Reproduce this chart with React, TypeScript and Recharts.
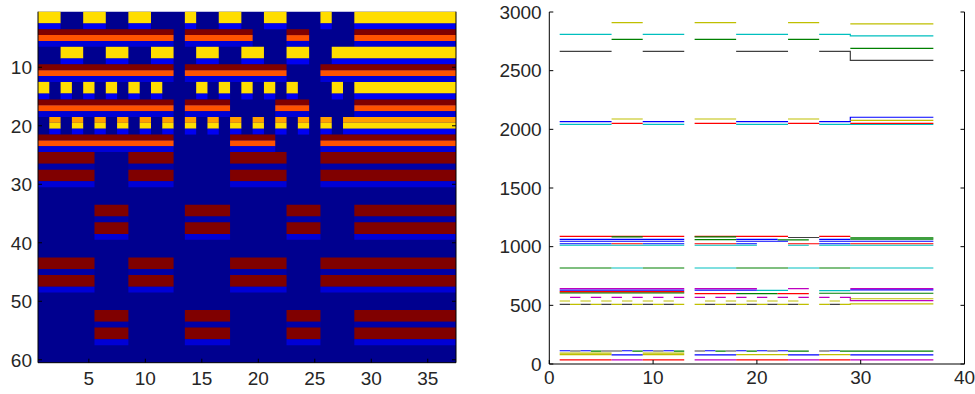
import React from 'react';
import { ComposedChart, LineChart, Line, XAxis, YAxis, ReferenceArea, Scatter } from 'recharts';

// ---------- Left panel: image (60 rows x 37 columns) ----------
const HEAT_COLS = 37;
const HEAT_ROWS_N = 60;
const HEAT_X_TICKS = [5, 10, 15, 20, 25, 30, 35];
const HEAT_Y_TICKS = [10, 20, 30, 40, 50, 60];

const HEAT_COLORS: Record<string, string> = {
  bg: '#00008F',
  lb: '#0000F2',
  mb: '#0000D6',
  db: '#0000A6',
  dr: '#800000',
  or: '#FF5200',
  ye: '#FFDD00',
  og: '#FFA000',
};

// column runs [firstCol, lastCol]
const P1 = [[1, 2], [5, 6], [9, 10], [14, 14], [17, 18], [21, 22], [26, 26], [29, 37]];
const P2 = [[1, 12], [14, 19], [23, 24], [29, 37]];
const P3 = [[3, 4], [7, 8], [11, 12], [15, 16], [19, 20], [23, 24], [27, 37]];
const P4 = [[1, 12], [14, 22], [26, 37]];
const P5 = [[1, 1], [3, 3], [5, 5], [7, 7], [9, 9], [11, 11], [15, 15], [17, 17], [19, 19], [21, 21], [23, 23], [27, 27], [29, 37]];
const P6 = [[1, 12], [14, 17], [22, 24], [29, 37]];
const P7 = [[2, 2], [4, 4], [6, 6], [8, 8], [10, 10], [12, 12], [14, 14], [16, 16], [18, 18], [20, 20], [22, 22], [24, 24], [26, 26], [28, 37]];
const P8 = [[1, 12], [18, 21], [26, 37]];
const PA = [[1, 5], [9, 12], [18, 22], [26, 37]];
const PB = [[6, 8], [14, 17], [23, 25], [29, 37]];

// [firstRow, lastRow, colour, column runs]
const HEAT_ROWS: [number, number, string, number[][]][] = [
  [1, 2, 'ye', P1], [3, 3, 'lb', P1],
  [4, 4, 'dr', P2], [5, 5, 'or', P2], [6, 6, 'mb', P2],
  [7, 8, 'ye', P3], [9, 9, 'lb', P3],
  [10, 10, 'dr', P4], [11, 11, 'or', P4], [12, 12, 'mb', P4],
  [13, 14, 'ye', P5], [15, 15, 'lb', P5],
  [16, 16, 'dr', P6], [17, 17, 'or', P6], [18, 18, 'mb', P6],
  [19, 19, 'og', P7], [20, 20, 'ye', P7], [21, 21, 'lb', P7],
  [22, 22, 'dr', P8], [23, 23, 'or', P8], [24, 24, 'mb', P8],
  [25, 26, 'dr', PA], [27, 27, 'db', PA], [28, 29, 'dr', PA], [30, 30, 'mb', PA],
  [34, 35, 'dr', PB], [36, 36, 'db', PB], [37, 38, 'dr', PB], [39, 39, 'mb', PB],
  [43, 44, 'dr', PA], [45, 45, 'db', PA], [46, 47, 'dr', PA], [48, 48, 'mb', PA],
  [52, 53, 'dr', PB], [54, 54, 'db', PB], [55, 56, 'dr', PB], [57, 57, 'mb', PB],
];

// ---------- Right panel: stair lines ----------
const LINE_X_TICKS = [0, 10, 20, 30, 40];
const LINE_Y_TICKS = [0, 500, 1000, 1500, 2000, 2500, 3000];

const B = '#0000FF';
const G = '#008000';
const R = '#FF0000';
const C = '#00BFBF';
const M = '#BF00BF';
const Y = '#BFBF00';
const K = '#404040';

// runs: [firstCol, lastCol, value]
const TOP_SERIES = [
  { color: Y, runs: [[6, 8, 2910], [14, 17, 2910], [23, 25, 2910], [29, 36, 2898]] },
  { color: C, runs: [[1, 5, 2810], [9, 12, 2810], [18, 22, 2810], [26, 28, 2810], [29, 36, 2796]] },
  { color: G, runs: [[6, 8, 2767], [14, 17, 2767], [23, 25, 2767], [29, 36, 2690]] },
  { color: K, runs: [[1, 5, 2665], [9, 12, 2665], [18, 22, 2665], [26, 28, 2665], [29, 36, 2588]] },
];
const BAND2000_SERIES = [
  { color: B, runs: [[1, 5, 2065], [9, 12, 2065], [18, 22, 2065], [26, 28, 2065], [29, 36, 2103]] },
  { color: C, runs: [[1, 5, 2043], [9, 12, 2043], [18, 22, 2043], [26, 28, 2043], [29, 36, 2043]] },
  { color: Y, runs: [[6, 8, 2088], [14, 17, 2088], [23, 25, 2088], [29, 36, 2077]] },
  { color: R, runs: [[6, 8, 2051], [14, 17, 2051], [23, 25, 2051], [29, 36, 2051]] },
];
const BAND1000_SERIES = [
  { color: B, runs: [[1, 12, 1063], [18, 21, 1063], [26, 28, 1063]] },
  { color: G, runs: [[14, 17, 1060], [22, 24, 1058]] },
  { color: B, runs: [[1, 12, 1046], [18, 22, 1046], [26, 36, 1046]] },
  { color: B, runs: [[1, 5, 1025], [9, 12, 1025], [18, 19, 1025], [26, 28, 1025]] },
  { color: R, runs: [[6, 8, 1025], [14, 17, 1025], [23, 25, 1025], [29, 36, 1025]] },
  { color: C, runs: [[1, 12, 1012], [14, 19, 1012], [23, 24, 1012], [26, 36, 1012]] },
  { color: R, runs: [[1, 12, 1088], [14, 22, 1088], [26, 28, 1088]] },
  { color: G, runs: [[6, 8, 1084], [14, 17, 1084], [29, 36, 1075]] },
  { color: G, runs: [[29, 36, 1064]] },
  { color: K, runs: [[23, 25, 1078]] },
];
const BAND800_SERIES = [
  { color: G, runs: [[1, 5, 818], [9, 12, 818], [18, 22, 818], [26, 28, 818]] },
  { color: C, runs: [[6, 8, 818], [14, 17, 818], [23, 25, 818], [29, 36, 818]] },
];
const BAND600_SERIES = [
  { color: G, runs: [[1, 12, 607], [18, 21, 600], [26, 36, 603]] },
  { color: R, runs: [[1, 12, 617], [14, 17, 600], [22, 24, 600]] },
  { color: C, runs: [[20, 22, 628], [26, 28, 626]] },
  { color: B, runs: [[1, 12, 630], [14, 19, 630], [29, 36, 632]] },
  { color: M, runs: [[1, 12, 642], [14, 19, 642], [23, 24, 642], [29, 36, 642]] },
];
const BAND500_SERIES = [
  { color: M, runs: [[2, 2, 568], [4, 4, 568], [6, 6, 568], [8, 8, 568], [10, 10, 568], [12, 12, 568], [14, 14, 568], [16, 16, 568], [18, 18, 568], [20, 20, 568], [22, 22, 568], [24, 24, 568], [26, 26, 568], [28, 28, 568], [29, 36, 540]] },
  { color: Y, runs: [[1, 1, 537], [3, 3, 537], [5, 5, 537], [7, 7, 537], [9, 9, 537], [11, 11, 537], [15, 15, 537], [17, 17, 537], [19, 19, 537], [21, 21, 537], [23, 23, 537], [27, 27, 537], [29, 36, 556]] },
  { color: K, runs: [[1, 1, 509], [3, 3, 509], [5, 5, 509], [7, 7, 509], [9, 9, 509], [11, 11, 509], [15, 15, 509], [17, 17, 509], [19, 19, 509], [21, 21, 509], [23, 23, 509], [27, 27, 509]] },
  { color: Y, runs: [[2, 2, 509], [4, 4, 509], [6, 6, 509], [8, 8, 509], [10, 10, 509], [12, 12, 509], [14, 14, 509], [16, 16, 509], [18, 18, 509], [20, 20, 509], [22, 22, 509], [24, 24, 509], [26, 26, 509], [28, 28, 509], [29, 36, 512]] },
];
const BAND0_SERIES = [
  { color: B, runs: [[1, 1, 113], [3, 3, 113], [7, 7, 113], [9, 9, 113], [11, 11, 113], [15, 15, 113], [18, 18, 113], [20, 20, 113], [22, 22, 113], [27, 27, 113]] },
  { color: K, runs: [[2, 2, 111], [5, 5, 111], [6, 6, 111], [10, 10, 111], [14, 14, 111], [17, 17, 111], [21, 21, 111], [26, 26, 111]] },
  { color: G, runs: [[4, 4, 109], [8, 8, 109], [12, 12, 109], [16, 16, 109], [19, 19, 109], [23, 23, 109], [24, 24, 109], [28, 28, 109], [29, 36, 109]] },
  { color: Y, runs: [[1, 5, 93], [9, 12, 93]] },
  { color: Y, runs: [[1, 5, 80], [9, 12, 80], [18, 22, 80], [26, 28, 80]] },
  { color: B, runs: [[6, 8, 77], [14, 17, 77], [23, 25, 77], [29, 36, 77]] },
  { color: R, runs: [[1, 5, 36], [9, 12, 36], [18, 22, 36], [26, 28, 36]] },
  { color: M, runs: [[6, 8, 36], [14, 17, 36], [23, 25, 36], [29, 36, 36]] },
];

const ALL_SERIES = [
  ...TOP_SERIES,
  ...BAND2000_SERIES,
  ...BAND1000_SERIES,
  ...BAND800_SERIES,
  ...BAND600_SERIES,
  ...BAND500_SERIES,
  ...BAND0_SERIES,
];

// stairs: each column value spans [col, col+1)
function stairPoints(runs: number[][]) {
  const pts: { x: number; y: number | null }[] = [];
  runs.forEach(([a, b, v], i) => {
    if (i > 0) {
      const prevEnd = runs[i - 1][1] + 1;
      if (a !== prevEnd) pts.push({ x: (prevEnd + a) / 2, y: null });
    }
    pts.push({ x: a, y: v });
    pts.push({ x: b + 1, y: v });
  });
  return pts;
}

const FONT = "'Liberation Sans', Arial, Helvetica, sans-serif";
const TICK_STYLE = { fontSize: 19, fill: '#262626', fontFamily: FONT };
const AXIS_COLOR = '#000000';

function HeatPanel() {
  const areas: React.ReactNode[] = [];
  HEAT_ROWS.forEach(([r1, r2, key, runs], i) => {
    runs.forEach(([c1, c2], j) => {
      areas.push(
        <ReferenceArea
          key={`h${i}-${j}`}
          x1={c1 - 0.5}
          x2={c2 + 0.5}
          y1={r1 - 0.5}
          y2={r2 + 0.5}
          fill={HEAT_COLORS[key]}
          fillOpacity={1}
          stroke="none"
          ifOverflow="visible"
        />
      );
    });
  });
  const centers = [{ x: (1 + HEAT_COLS) / 2, y: (1 + HEAT_ROWS_N) / 2 }];
  return (
    <ComposedChart
      width={470}
      height={394}
      margin={{ top: 11.7, right: 13, bottom: 0, left: 0 }}
    >
      <XAxis
        xAxisId={0}
        type="number"
        dataKey="x"
        domain={[0.5, HEAT_COLS + 0.5]}
        ticks={HEAT_X_TICKS}
        allowDataOverflow
        height={31.3}
        tickSize={-4}
        tickMargin={13}
        tick={TICK_STYLE}
        stroke={AXIS_COLOR}
      />
      <XAxis
        xAxisId="top"
        orientation="top"
        type="number"
        domain={[0.5, HEAT_COLS + 0.5]}
        ticks={HEAT_X_TICKS}
        allowDataOverflow
        height={0}
        tickSize={-4}
        tickFormatter={() => ''}
        stroke={AXIS_COLOR}
      />
      <YAxis
        yAxisId={0}
        type="number"
        dataKey="y"
        domain={[0.5, HEAT_ROWS_N + 0.5]}
        ticks={HEAT_Y_TICKS}
        reversed
        allowDataOverflow
        width={38}
        tickSize={-4}
        tickMargin={10}
        tick={TICK_STYLE}
        stroke={AXIS_COLOR}
      />
      <YAxis
        yAxisId="right"
        orientation="right"
        type="number"
        domain={[0.5, HEAT_ROWS_N + 0.5]}
        ticks={HEAT_Y_TICKS}
        reversed
        allowDataOverflow
        width={1}
        tickSize={-4}
        tickFormatter={() => ''}
        stroke={AXIS_COLOR}
      />
      <ReferenceArea
        x1={0.5}
        x2={HEAT_COLS + 0.5}
        y1={0.5}
        y2={HEAT_ROWS_N + 0.5}
        fill={HEAT_COLORS.bg}
        fillOpacity={1}
        stroke="none"
        ifOverflow="visible"
      />
      {areas}
      <Scatter data={centers} dataKey="y" isAnimationActive={false} shape={() => <g />} />
    </ComposedChart>
  );
}

function LinePanel() {
  return (
    <LineChart
      width={485}
      height={394}
      margin={{ top: 12, right: 9.5, bottom: 0, left: 0 }}
    >
      <XAxis
        xAxisId={0}
        type="number"
        dataKey="x"
        domain={[0, 40]}
        ticks={LINE_X_TICKS}
        allowDataOverflow
        height={30}
        tickSize={-4}
        tickMargin={11}
        tick={TICK_STYLE}
        stroke={AXIS_COLOR}
      />
      <XAxis
        xAxisId="top"
        orientation="top"
        type="number"
        domain={[0, 40]}
        ticks={LINE_X_TICKS}
        allowDataOverflow
        height={0}
        tickSize={-4}
        tickFormatter={() => ''}
        stroke={AXIS_COLOR}
      />
      <YAxis
        yAxisId={0}
        type="number"
        domain={[0, 3000]}
        ticks={LINE_Y_TICKS}
        allowDataOverflow
        width={59.3}
        tickSize={-4}
        tickMargin={11.6}
        tick={TICK_STYLE}
        stroke={AXIS_COLOR}
      />
      <YAxis
        yAxisId="right"
        orientation="right"
        type="number"
        domain={[0, 3000]}
        ticks={LINE_Y_TICKS}
        allowDataOverflow
        width={1}
        tickSize={-4}
        tickFormatter={() => ''}
        stroke={AXIS_COLOR}
      />
      {ALL_SERIES.map((s, i) => (
        <Line
          key={`s${i}`}
          data={stairPoints(s.runs)}
          dataKey="y"
          type="linear"
          stroke={s.color}
          strokeWidth={1.2}
          dot={false}
          activeDot={false}
          connectNulls={false}
          isAnimationActive={false}
        />
      ))}
    </LineChart>
  );
}

export default function App() {
  return (
    <div
      style={{
        position: 'absolute',
        left: 0,
        top: 0,
        width: 975,
        height: 394,
        background: '#ffffff',
        fontFamily: FONT,
        overflow: 'hidden',
      }}
    >
      <div style={{ position: 'absolute', left: 0, top: 0 }}>
        <HeatPanel />
      </div>
      <div style={{ position: 'absolute', left: 490, top: 0 }}>
        <LinePanel />
      </div>
    </div>
  );
}
